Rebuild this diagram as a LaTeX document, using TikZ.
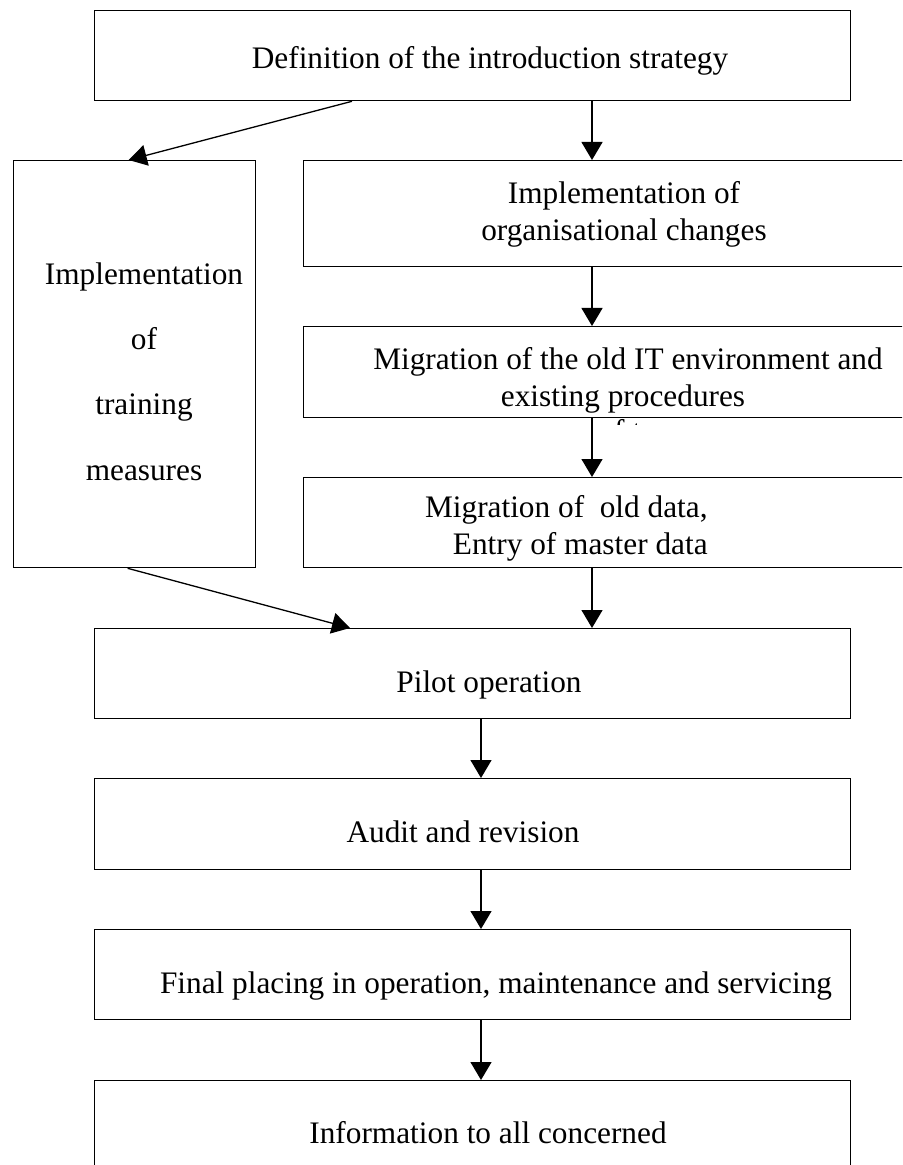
\documentclass[tikz,border=0pt]{standalone}
\usepackage{fontspec}
\setmainfont{Liberation Serif}
\usetikzlibrary{arrows.meta}
\begin{document}
\begin{tikzpicture}[x=0.5pt,y=-0.5pt,
  box/.style={draw,line width=0.65pt,rectangle,inner sep=0pt,anchor=north west},
  txt/.style={inner sep=0pt,anchor=base,font=\fontsize{15.65}{18.5}\selectfont},
  arr/.style={line width=0.65pt,-{Triangle[length=9pt,width=10.5pt]}}]
\useasboundingbox (0,0) rectangle (902,1165);
\clip (0,0) rectangle (902,1165);
\fill[white] (0,0) rectangle (902,1165);
% boxes
\node[box,minimum width=378pt,minimum height=45pt] (top) at (94,10) {};
\node[box,minimum width=121pt,minimum height=203.5pt] (left) at (13,160) {};
\node[box,minimum width=325pt,minimum height=53pt] (b2) at (303,160) {};
\node[box,minimum width=325pt,minimum height=45.5pt] (b3) at (303,326) {};
\node[box,minimum width=325pt,minimum height=45pt] (b4) at (303,477) {};
\node[box,minimum width=378pt,minimum height=45pt] (pilot) at (94,628) {};
\node[box,minimum width=378pt,minimum height=45.5pt] (audit) at (94,778) {};
\node[box,minimum width=378pt,minimum height=45pt] (final) at (94,929) {};
\node[box,minimum width=378pt,minimum height=60pt] (info) at (94,1080) {};
% texts
\node[txt] (t1) at (490,69) {Definition of the introduction strategy};
\node[txt] (tl1) at (144,285) {Implementation};
\node[txt] (tl2) at (144,350) {of};
\node[txt] (tl3) at (144,415) {training};
\node[txt] (tl4) at (144,480) {measures};
\node[txt] (t2a) at (624,204) {Implementation of};
\node[txt] (t2b) at (624,241) {organisational changes};
\node[txt] (t3a) at (628,370) {Migration of the old IT environment and};
\node[txt] (t3b) at (623,407) {existing procedures};
\node[txt,anchor=base east] (t4a) at (708,517) {Migration of\ \ old data,};
\node[txt,anchor=base east] (t4b) at (708,554) {Entry of master data};
\node[txt] (t5) at (489,692) {Pilot operation};
\node[txt] (t6) at (463,842) {Audit and revision};
\node[txt] (t7) at (496,993) {Final placing in operation, maintenance and servicing};
\node[txt] (t8) at (488,1143) {Information to all concerned};
\begin{scope}
\clip (596,418.5) rectangle (660,424);
\node[txt,anchor=base west] (frag) at (598,441) {of t};
\end{scope}
% connectors
\coordinate (colR) at (592,0);
\coordinate (colM) at (481,0);
\draw[arr] ([xshift=129pt]top.south west) -- ([xshift=-3pt]left.north);
\draw[arr] (top.south -| colR) -- (b2.north -| colR);
\draw[arr] (b2.south -| colR) -- (b3.north -| colR);
\draw[arr] (b3.south -| colR) -- (b4.north -| colR);
\draw[arr] (b4.south -| colR) -- (pilot.north -| colR);
\draw[arr] ([xshift=-3.5pt]left.south) -- ([xshift=128pt]pilot.north west);
\draw[arr] (pilot.south -| colM) -- (audit.north -| colM);
\draw[arr] (audit.south -| colM) -- (final.north -| colM);
\draw[arr] (final.south -| colM) -- (info.north -| colM);
\end{tikzpicture}
\end{document}
